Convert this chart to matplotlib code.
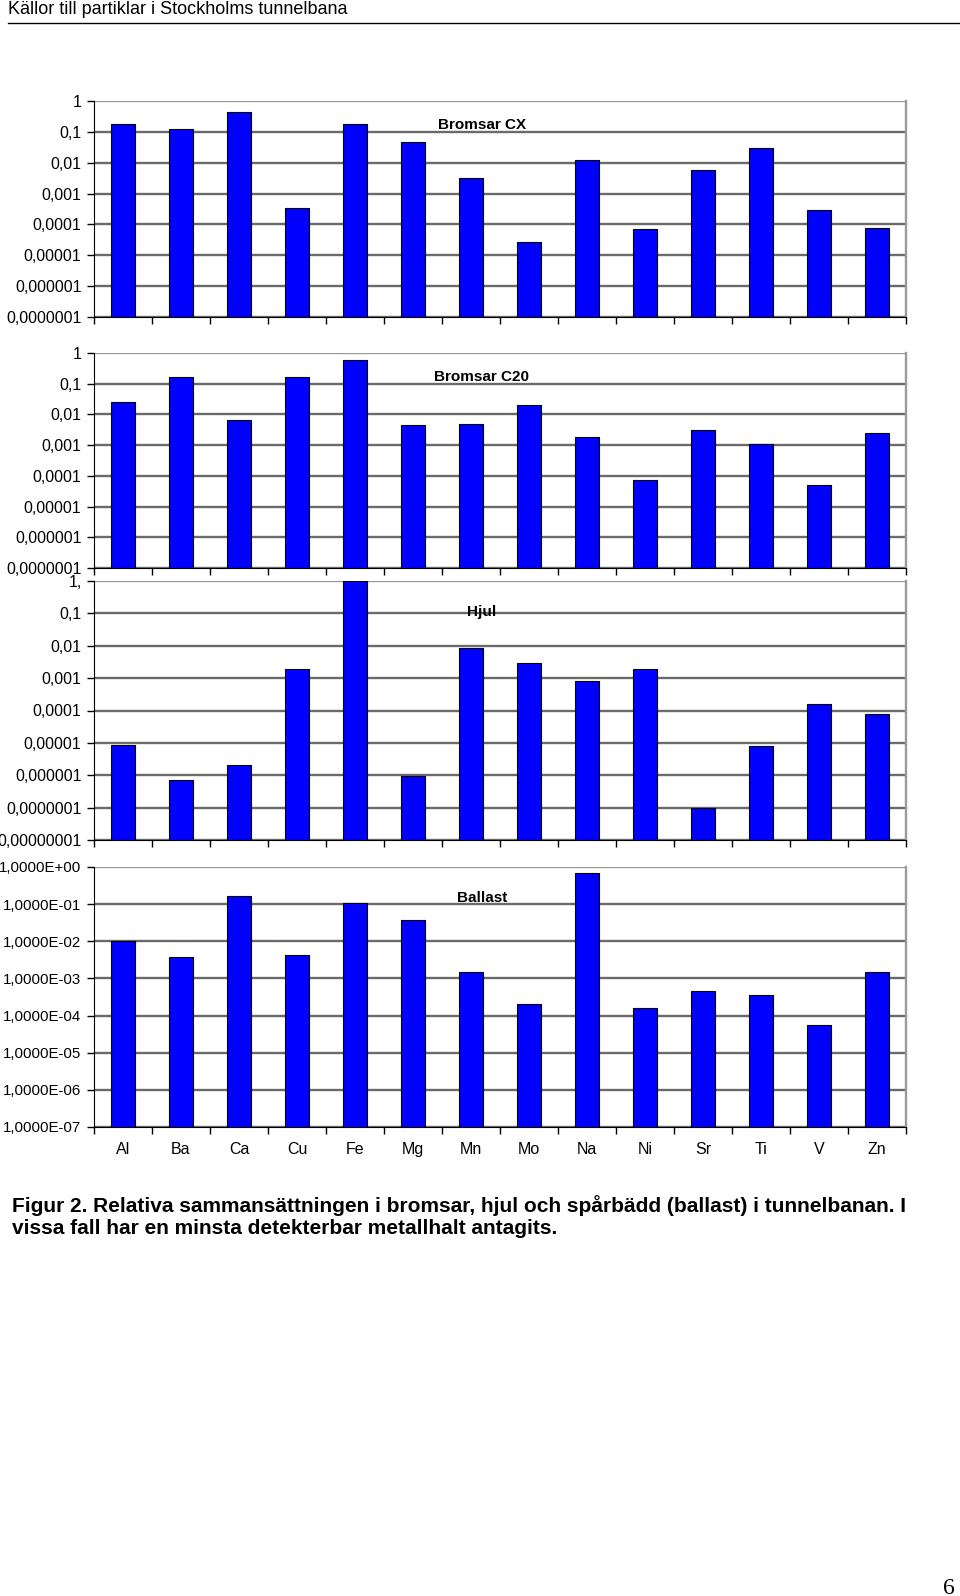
import numpy as np
import matplotlib
matplotlib.use("Agg")
import matplotlib.pyplot as plt
from matplotlib import font_manager

# data
##########################################################################
elements = ["Al", "Ba", "Ca", "Cu", "Fe", "Mg", "Mn", "Mo", "Na", "Ni", "Sr", "Ti", "V", "Zn"]

bromsar_cx = [0.18, 0.12, 0.45, 3.4e-4, 0.18, 0.046, 3.1e-3, 2.6e-5, 0.012, 7e-5, 6e-3, 0.03, 3e-4, 7.7e-5]
bromsar_c20 = [0.026, 0.16, 6.7e-3, 0.17, 0.6, 4.5e-3, 4.9e-3, 0.02, 1.9e-3, 7.4e-5, 3.2e-3, 1.1e-3, 5e-5, 2.5e-3]
hjul = [8.3e-6, 7.2e-7, 2.1e-6, 1.9e-3, 1.0, 9.3e-7, 8.5e-3, 2.9e-3, 7.9e-4, 1.9e-3, 1.0e-7, 7.8e-6, 1.6e-4, 7.8e-5]
ballast = [0.0103, 3.8e-3, 0.165, 4.3e-3, 0.11, 0.037, 1.5e-3, 2.0e-4, 0.68, 1.6e-4, 4.7e-4, 3.6e-4, 5.7e-5, 1.45e-3]

titles = ["Bromsar CX", "Bromsar C20", "Hjul", "Ballast"]

ticks_7 = ["0,0000001", "0,000001", "0,00001", "0,0001", "0,001", "0,01", "0,1", "1"]
ticks_hjul = ["0,00000001", "0,0000001", "0,000001", "0,00001", "0,0001", "0,001", "0,01", "0,1", "1,"]
ticks_ballast = ["1,0000E-07", "1,0000E-06", "1,0000E-05", "1,0000E-04", "1,0000E-03",
                 "1,0000E-02", "1,0000E-01", "1,0000E+00"]

caption = ("Figur 2. Relativa sammansättningen i bromsar, hjul och spårbädd (ballast) i tunnelbanan. I\n"
           "vissa fall har en minsta detekterbar metallhalt antagits.")
header = "Källor till partiklar i Stockholms tunnelbana"

# fonts
##########################################################################
names = [f.name for f in font_manager.fontManager.ttflist]
narrow = "Liberation Sans Narrow" if "Liberation Sans Narrow" in names else "Liberation Sans"
plt.rcParams["font.family"] = ["Liberation Sans", "DejaVu Sans"]

W, H = 960, 1596
fig = plt.figure(figsize=(W / 100, H / 100), dpi=100)


def rect(left, right, top, bottom):
    return [left / W, 1 - bottom / H, (right - left) / W, (bottom - top) / H]


# panels: (values, exponent low, tick labels, tick size, top, bottom, title y)
panels = [
    (bromsar_cx, -7, ticks_7, 11.5, 101, 317, 125),
    (bromsar_c20, -7, ticks_7, 11.5, 353, 568, 377),
    (hjul, -8, ticks_hjul, 11.5, 581, 840, 612),
    (ballast, -7, ticks_ballast, 10.8, 867, 1127, 898),
]

x = np.arange(len(elements))
for i, (vals, lo, tlabels, tsize, top, bottom, ty) in enumerate(panels):
    ax = fig.add_axes(rect(94, 906, top, bottom))
    ymin = 10.0 ** lo
    ax.set_yscale("log")
    ax.bar(x, np.array(vals) - ymin, bottom=ymin, width=0.4, color="#0000FF",
           edgecolor="black", linewidth=0.8, zorder=3)
    ax.set_xlim(-0.5, len(elements) - 0.5)
    ax.set_ylim(ymin, 1)

    yt = [10.0 ** k for k in range(lo, 1)]
    ax.set_yticks(yt)
    ax.set_yticklabels(tlabels, fontsize=tsize)
    ax.minorticks_off()
    for k, v in enumerate(yt):
        c = "#9a9a9a" if k == len(yt) - 1 else "#6a6a6a"
        ax.axhline(v, color=c, linewidth=1.7, zorder=1)

    ax.set_xticks(np.arange(len(elements) + 1) - 0.5, minor=False)
    ax.set_xticklabels([])
    ax.tick_params(axis="x", direction="out", length=5, width=1, color="black")
    ax.tick_params(axis="y", direction="out", length=5, width=1, color="black", pad=4)

    ax.spines["top"].set_visible(False)
    ax.spines["right"].set_color("#9a9a9a")
    ax.spines["right"].set_linewidth(1.7)
    ax.spines["left"].set_color("black")
    ax.spines["bottom"].set_color("black")
    ax.spines["left"].set_zorder(4)
    ax.spines["bottom"].set_zorder(4)

    fig.text(482 / W, 1 - ty / H, titles[i], fontsize=11, fontweight="bold",
             ha="center", va="center")

    if i == 3:
        for j, el in enumerate(elements):
            ax.text(j, -0.085, el, transform=ax.get_xaxis_transform(), fontsize=11.5,
                    ha="center", va="center")

# header, caption, page number
fig.text(8 / W, 1 - 10 / H, header, family=[narrow, "DejaVu Sans"], fontsize=13,
         ha="left", va="center")
fig.add_artist(plt.Line2D([8 / W, 1], [1 - 23 / H, 1 - 23 / H], color="black", linewidth=1))
fig.text(12 / W, 1 - 1195 / H, caption, family=[narrow, "DejaVu Sans"], fontsize=15,
         fontweight="bold", ha="left", va="top", linespacing=1.22)
fig.text(949 / W, 1 - 1588 / H, "6", family=["Liberation Serif", "DejaVu Serif"],
         fontsize=17, ha="center", va="center")

fig.savefig("out.png", dpi=100, facecolor="white")
